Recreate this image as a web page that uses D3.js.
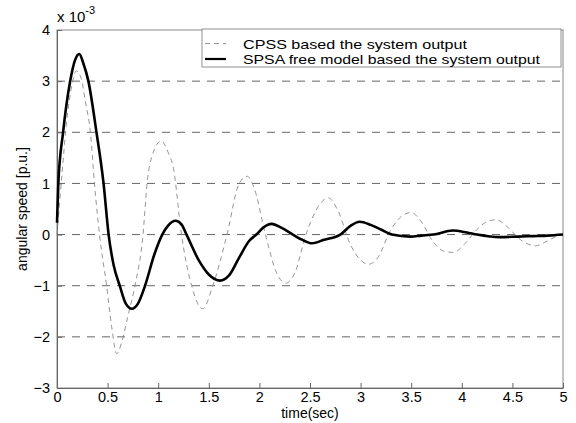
<!DOCTYPE html>
<html>
<head>
<meta charset="utf-8">
<script src="https://cdn.jsdelivr.net/npm/d3@7"></script>
<style>
  body { margin: 0; background: #fff; }
  svg { display: block; font-family: "Liberation Sans", Arial, sans-serif; }
</style>
</head>
<body>
<div id="chart"></div>
<script>
/* damped oscillation comparison, angular speed vs time */

// data (values in units of 1e-3 p.u.)
const tCpss = [0, 0.05, 0.1, 0.15, 0.19, 0.24, 0.28, 0.33, 0.37, 0.42, 0.49, 0.54, 0.59, 0.64, 0.7, 0.77, 0.85, 0.89, 0.95, 1.03, 1.1, 1.15, 1.23, 1.33, 1.44, 1.54, 1.68, 1.8, 1.88, 1.95, 2.06, 2.17, 2.26, 2.35, 2.46, 2.6, 2.68, 2.78, 2.9, 3.0, 3.08, 3.17, 3.3, 3.42, 3.5, 3.6, 3.72, 3.83, 3.92, 4.02, 4.15, 4.27, 4.34, 4.45, 4.58, 4.66, 4.73, 4.82, 4.92, 5.0];
const yCpss = [0, 1.2, 2.3, 2.95, 3.2, 3.05, 2.6, 2.0, 1.0, 0, -1.0, -1.8, -2.33, -2.1, -1.6, -1.0, 0, 1.0, 1.6, 1.83, 1.6, 1.3, 0, -1.0, -1.45, -1.0, 0, 1.0, 1.14, 0.9, 0, -0.75, -0.95, -0.75, 0, 0.6, 0.72, 0.45, -0.2, -0.5, -0.58, -0.45, 0.1, 0.38, 0.43, 0.25, -0.15, -0.33, -0.35, -0.2, 0.1, 0.27, 0.29, 0.15, -0.1, -0.19, -0.22, -0.15, -0.05, 0];

const tSpsa = [0, 0.013, 0.06, 0.13, 0.18, 0.22, 0.26, 0.31, 0.39, 0.46, 0.51, 0.56, 0.62, 0.68, 0.74, 0.8, 0.87, 0.96, 1.04, 1.1, 1.17, 1.23, 1.28, 1.4, 1.5, 1.61, 1.7, 1.8, 1.9, 1.97, 2.04, 2.12, 2.22, 2.33, 2.42, 2.52, 2.64, 2.8, 2.9, 2.99, 3.1, 3.2, 3.31, 3.49, 3.6, 3.72, 3.91, 4.05, 4.15, 4.38, 4.55, 4.7, 4.85, 5.0];
const ySpsa = [0.23, 1.0, 2.0, 3.0, 3.42, 3.53, 3.35, 3.0, 2.0, 1.0, 0, -0.6, -1.0, -1.35, -1.45, -1.35, -1.0, -0.4, 0, 0.18, 0.27, 0.2, 0, -0.5, -0.78, -0.9, -0.8, -0.45, -0.12, 0, 0.14, 0.21, 0.13, 0, -0.1, -0.17, -0.1, 0, 0.17, 0.25, 0.19, 0.1, 0, -0.04, -0.02, 0, 0.08, 0.04, 0, -0.05, -0.04, -0.03, -0.02, 0];

const xTicks = [0, 0.5, 1, 1.5, 2, 2.5, 3, 3.5, 4, 4.5, 5];
const yTicks = [-3, -2, -1, 0, 1, 2, 3, 4];
const legendLabels = ["CPSS based the system output", "SPSA free model based the system output"];

// chart skeleton
const width = 576, height = 423,
    margin = ({ top: 30, right: 13, bottom: 35, left: 57 });

const svg = d3.select("#chart")
    .append("svg")
    .attr("width", width)
    .attr("height", height);

let x = d3.scaleLinear()
    .domain([0, 5])
    .range([margin.left, width - margin.right]);

let y = d3.scaleLinear()
    .domain([-3, 4])
    .range([height - margin.bottom, margin.top]);

// horizontal dashed grid
svg.append("g")
  .selectAll("line")
  .data(yTicks.slice(1, -1))
  .join("line")
    .attr("x1", x(0))
    .attr("x2", x(5))
    .attr("y1", d => y(d))
    .attr("y2", d => y(d))
    .attr("stroke", "#666")
    .attr("stroke-width", 1)
    .attr("stroke-dasharray", "8,7");

// box around the plot
svg.append("rect")
    .attr("x", x(0))
    .attr("y", y(4))
    .attr("width", x(5) - x(0))
    .attr("height", y(-3) - y(4))
    .attr("fill", "none")
    .attr("stroke", "#888")
    .attr("stroke-width", 1);

// axes with inward ticks
let xAxis = svg.append("g")
    .attr("transform", `translate(0,${y(-3)})`)
    .call(d3.axisBottom(x).tickValues(xTicks).tickFormat(d3.format("")).tickSize(-5).tickPadding(4).tickSizeOuter(0));

let yAxis = svg.append("g")
    .attr("transform", `translate(${x(0)},0)`)
    .call(d3.axisLeft(y).tickValues(yTicks).tickFormat(d3.format("")).tickSize(-5).tickPadding(7).tickSizeOuter(0));

for (let g of [xAxis, yAxis]) {
    g.select(".domain").attr("stroke", "#666");
    g.selectAll(".tick line").attr("stroke", "#666");
    g.selectAll(".tick text")
      .attr("fill", "#000")
      .style("font-size", "14.5px")
      .style("font-family", "Liberation Sans, Arial, sans-serif");
}

// exponent label
let expo = svg.append("text")
    .attr("x", x(0))
    .attr("y", 22)
    .attr("fill", "#000")
    .style("font-size", "15px");
expo.append("tspan").text("x 10");
expo.append("tspan")
    .attr("dy", -8)
    .style("font-size", "11px")
    .text("-3");

// axis labels
svg.append("text")
    .attr("text-anchor", "middle")
    .attr("x", (x(0) + x(5)) / 2)
    .attr("y", 418)
    .style("font-size", "14px")
    .text("time(sec)");

svg.append("text")
    .attr("text-anchor", "middle")
    .attr("transform", `translate(27,${(y(4) + y(-3)) / 2}) rotate(-90)`)
    .style("font-size", "14px")
    .text("angular speed [p.u.]");

// the two curves
let lineCpss = d3.line()
    .x((d, i) => x(tCpss[i]))
    .y(d => y(d))
    .curve(d3.curveMonotoneX);

let lineSpsa = d3.line()
    .x((d, i) => x(tSpsa[i]))
    .y(d => y(d))
    .curve(d3.curveMonotoneX);

svg.append("path")
    .datum(yCpss)
    .attr("d", lineCpss)
    .attr("fill", "none")
    .attr("stroke", "#888")
    .attr("stroke-width", 0.9)
    .attr("stroke-dasharray", "5,4");

svg.append("path")
    .datum(ySpsa)
    .attr("d", lineSpsa)
    .attr("fill", "none")
    .attr("stroke", "#000")
    .attr("stroke-width", 2.6)
    .attr("stroke-linejoin", "round");

// legend in the upper right corner
const legend = svg.append("g");

legend.append("rect")
    .attr("x", 202)
    .attr("y", 29)
    .attr("width", x(5) - 2 - 202)
    .attr("height", 38)
    .attr("fill", "#fff")
    .attr("stroke", "#777")
    .attr("stroke-width", 0.8);

const legendStyles = [
    { stroke: "#888", width: 0.9, dash: "5,4", len: 224 },
    { stroke: "#000", width: 2.2, dash: null, len: 297 }
];

legendLabels.forEach((label, i) => {
    let cy = 43.5 + i * 15.5;
    legend.append("line")
        .attr("x1", 205)
        .attr("x2", 226)
        .attr("y1", cy)
        .attr("y2", cy)
        .attr("stroke", legendStyles[i].stroke)
        .attr("stroke-width", legendStyles[i].width)
        .attr("stroke-dasharray", legendStyles[i].dash);
    legend.append("text")
        .attr("x", 243)
        .attr("y", cy + 5)
        .attr("fill", "#000")
        .attr("textLength", legendStyles[i].len)
        .attr("lengthAdjust", "spacingAndGlyphs")
        .style("font-size", "13.5px")
        .text(label);
});
</script>
</body>
</html>
